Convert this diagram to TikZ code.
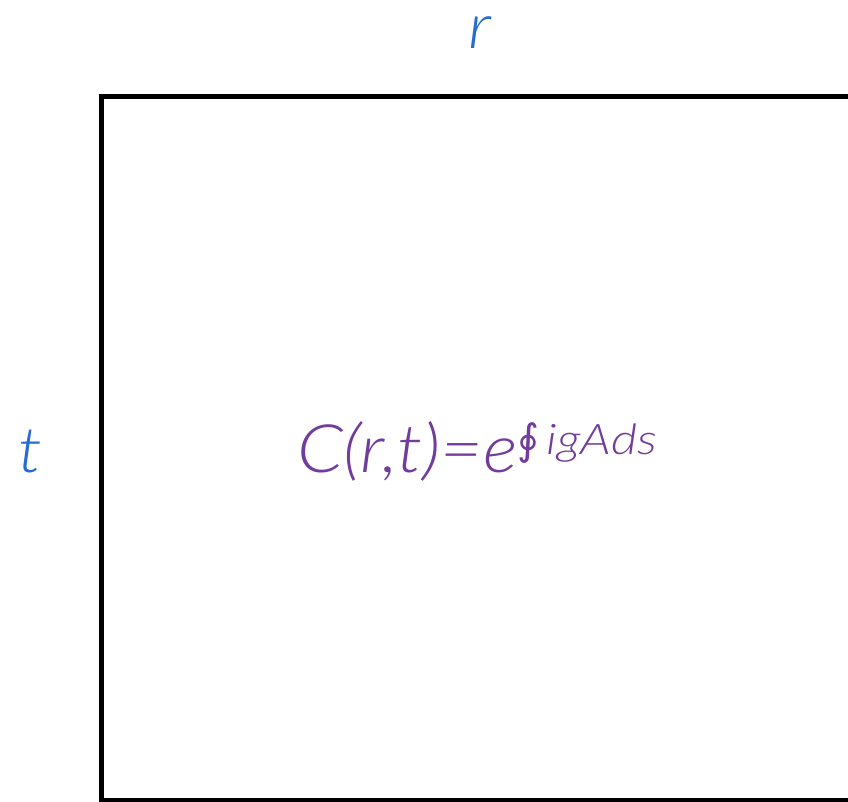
\documentclass[tikz,border=0pt]{standalone}
\usepackage{fontspec}
\newfontfamily\labelfont{Lato}[ItalicFont={Lato Light Italic}, FakeStretch=1.1]
\newfontfamily\supfont{Lato}[ItalicFont={Lato Light Italic}, FakeStretch=1.2]
\newfontfamily\symfont{DejaVu Sans}
\usetikzlibrary{positioning}

\definecolor{axisblue}{RGB}{38,108,212}
\definecolor{loopviolet}{RGB}{114,60,156}

\begin{document}
\begin{tikzpicture}[
			axislabel/.style={
				text=axisblue,
				font=\labelfont\fontsize{36}{36}\selectfont\itshape,
				inner sep=0pt
			},
			formula/.style={
				text=loopviolet,
				font=\labelfont\fontsize{38}{38}\selectfont\itshape,
				inner sep=0pt
			},
			frame/.style={
				draw=black,
				line width=2.7pt,
				outer sep=0pt,
				inner sep=0pt
			}
			]
			\useasboundingbox (0,0) rectangle (16.96,16.04);
			\clip (0,0) rectangle (16.96,16.04);
			\node[frame, minimum width=16cm, minimum height=14.08cm, anchor=north west] (box) at (2.034,14.106) {};
			\node[axislabel, anchor=base] (rlabel) at (9.6,15.06) {r};
			\node[axislabel, anchor=base] (tlabel) at (0.6,6.58) {t};
			\node[formula, anchor=base west] (wilson) at (5.94,6.58) {C(r,t)=e\raisebox{0.36cm}{\fontsize{24}{24}\selectfont{\symfont\upshape ∮}\,\supfont\itshape igAds}};
		\end{tikzpicture}
\end{document}
